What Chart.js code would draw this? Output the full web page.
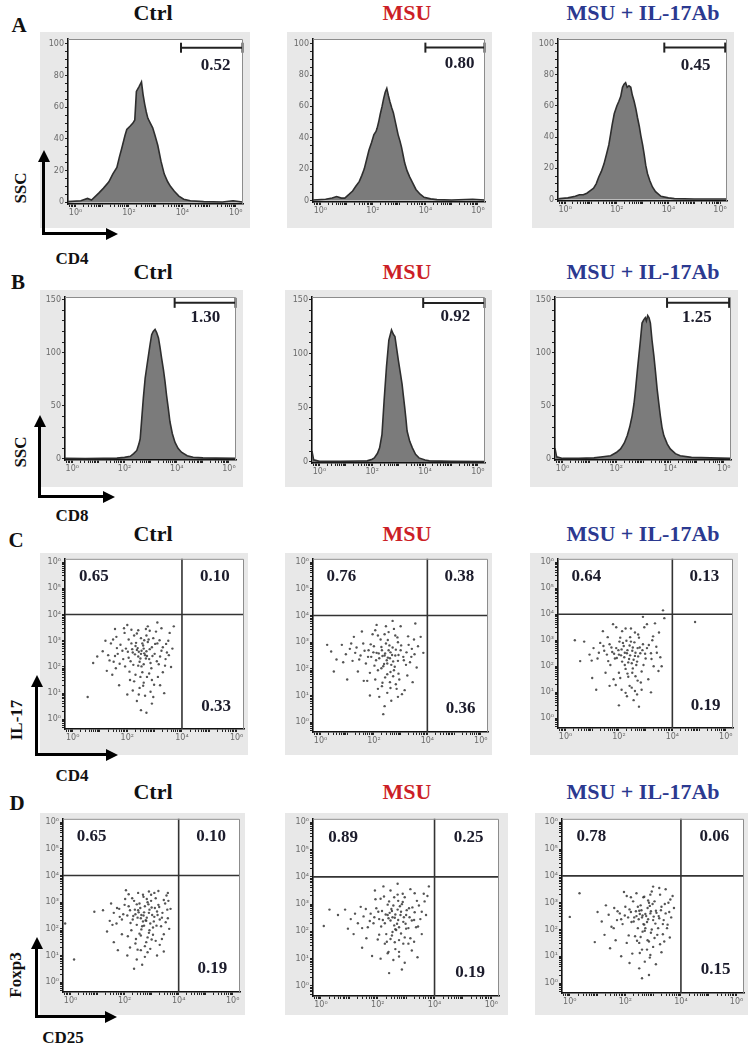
<!DOCTYPE html>
<html>
<head>
<meta charset="utf-8">
<title>Flow cytometry panels</title>
<script src="https://cdn.jsdelivr.net/npm/chart.js@4.4.1/dist/chart.umd.min.js"></script>
<style>
  body { margin: 0; background: #fff; }
  #fig { position: relative; width: 748px; height: 1046px; overflow: hidden; font-family: "Liberation Serif", "Times New Roman", serif; }
  #fig canvas { position: absolute; }
  .txt { position: absolute; font-weight: bold; white-space: nowrap; transform: translate(-50%, -50%); line-height: 1; }
  .title { font-size: 22px; }
  .letter { font-size: 21px; color: #111; }
  .axlab { font-size: 17px; color: #111; }
  .rot { transform: translate(-50%, -50%) rotate(-90deg); }
  .bar { position: absolute; background: #000; }
  .tri { position: absolute; width: 0; height: 0; }
</style>
</head>
<body>
<div id="fig"></div>
<script>
// groups and gate values
const columns = ['Ctrl', 'MSU', 'MSU + IL-17Ab'];
const gateA = [0.52, 0.80, 0.45];
const gateB = [1.30, 0.92, 1.25];
const quadC = [[0.65, 0.10, 0.33], [0.76, 0.38, 0.36], [0.64, 0.13, 0.19]];
const quadD = [[0.65, 0.10, 0.19], [0.89, 0.25, 0.19], [0.78, 0.06, 0.15]];

// histogram curves: [log10 intensity, count]
const histACtrl = [[-0.28,0.5],[0.2,1],[0.45,2.5],[0.6,1.5],[0.88,6],[1.05,9],[1.25,13],[1.4,18],[1.55,22],[1.65,29],[1.73,34],[1.85,42],[1.92,46],[2.04,48],[2.15,50],[2.22,52],[2.28,70],[2.38,73],[2.47,76],[2.53,68],[2.59,62],[2.65,57],[2.71,53],[2.8,50],[2.89,47],[2.98,42],[3.08,36],[3.14,31],[3.2,26],[3.32,18],[3.45,13],[3.56,10],[3.7,7],[3.87,4],[4.05,2],[4.3,1],[4.8,0.5],[5.5,0.3],[5.9,1],[6.25,0.3]];
const histAMsu = [[-0.28,0.3],[0.2,0.8],[0.45,1.5],[0.62,2.5],[0.8,1.5],[0.93,1.5],[1.1,4],[1.23,6],[1.35,9],[1.48,12],[1.58,16],[1.67,20],[1.76,26],[1.85,32],[1.95,37],[2.04,42],[2.12,44],[2.16,46],[2.22,50],[2.28,55],[2.35,60],[2.41,65],[2.47,69],[2.53,71.5],[2.59,67],[2.65,63],[2.72,59],[2.78,56],[2.87,49],[2.96,42],[3.03,38],[3.09,34],[3.15,29],[3.21,24],[3.3,19],[3.4,15],[3.52,11],[3.64,7],[3.8,4],[3.95,2],[4.2,1],[4.44,0.5],[5.0,0.3],[5.8,0.8],[6.25,0.3]];
const histAIl = [[-0.28,0.3],[-0.2,0.5],[0.1,1],[0.39,2],[0.55,3],[0.7,3],[0.84,4],[1.0,6],[1.1,7.2],[1.2,10],[1.3,14.4],[1.4,18],[1.5,22.7],[1.6,29],[1.69,35],[1.76,42],[1.82,48],[1.9,55],[2.0,60],[2.08,63],[2.15,66],[2.22,72],[2.28,74],[2.34,75],[2.4,72],[2.47,73],[2.54,72],[2.6,67],[2.67,63],[2.74,58],[2.8,52.6],[2.87,47],[2.93,41],[3.0,35],[3.06,29],[3.12,22],[3.19,16.5],[3.28,12],[3.38,8],[3.5,5],[3.71,2],[4.0,1],[4.23,0.5],[5,0.3],[6.25,0.3]];
const histBCtrl = [[-0.28,0.5],[0.5,0.3],[1.2,0.5],[1.71,0.8],[2.0,1.5],[2.22,2.5],[2.35,5],[2.47,8],[2.55,14],[2.6,19],[2.66,38],[2.72,57],[2.79,76],[2.86,88],[2.92,98],[2.98,108],[3.04,117],[3.1,120],[3.17,122],[3.23,119],[3.3,114],[3.36,105],[3.42,95],[3.49,84],[3.55,73],[3.61,60],[3.68,47],[3.74,35],[3.83,24],[3.93,15.8],[4.05,10],[4.18,6.3],[4.4,3],[4.63,1.6],[5,1],[5.5,0.8],[6.25,0.5]];
const histBMsu = [[-0.28,10],[-0.22,2],[0,0.5],[0.8,0.5],[1.5,0.8],[1.81,1],[2.0,2.5],[2.08,3.7],[2.2,8],[2.28,13],[2.37,25.5],[2.45,56.6],[2.54,88],[2.63,112.7],[2.73,122],[2.8,118],[2.86,116],[2.93,104],[2.99,94],[3.06,83],[3.13,72],[3.18,61],[3.23,50.5],[3.28,39],[3.32,28.6],[3.42,19],[3.52,13],[3.64,7],[3.77,3.7],[4.0,1.8],[4.16,1],[5,0.5],[6.25,0.3]];
const histBIl = [[-0.28,10],[-0.22,2],[0,0.5],[0.6,0.5],[1.17,1],[1.5,2],[1.79,3],[2.0,6],[2.16,9.4],[2.3,15],[2.41,22],[2.5,30],[2.59,40.6],[2.66,52],[2.72,66],[2.78,82],[2.84,97],[2.9,112],[2.96,128],[3.02,131],[3.08,133],[3.12,130],[3.17,135],[3.22,133],[3.27,128],[3.33,112],[3.4,97],[3.46,82],[3.52,66],[3.58,53],[3.64,40.6],[3.7,30],[3.77,22],[3.9,14],[4.01,9.4],[4.2,5],[4.38,3],[4.8,1.5],[5.5,1],[6.25,0.5]];

// gate bars: [start, end] in log10 units
const gateRangeA = [[3.95, 6.25], [4.0, 6.25], [3.84, 6.2]];
const gateRangeB = [[3.92, 6.25], [3.93, 6.25], [3.89, 6.2]];

// events: [log10 x, log10 y]
const dotsCCtrl = [[2.5,2.5],[2.6,2.7],[2.4,2.4],[2.7,2.6],[2.3,2.8],[2.8,2.3],[2.55,2.9],[2.45,2.2],[2.9,2.75],[2.2,2.55],[2.65,2.45],[2.35,2.65],[2.75,2.95],[2.05,2.35],[3.0,2.5],[2.5,3.1],[2.6,2.1],[2.15,2.9],[2.85,2.15],[2.4,2.05],[3.1,2.9],[1.95,2.7],[2.7,3.2],[3.2,2.4],[2.25,3.2],[2.95,3.1],[1.85,2.3],[2.55,1.8],[3.15,2.1],[2.05,3.05],[1.75,2.85],[2.8,1.75],[3.3,2.75],[2.4,3.4],[1.65,2.5],[2.3,1.7],[3.05,3.35],[2.9,1.5],[1.9,3.3],[3.4,2.3],[2.6,1.4],[1.5,2.2],[3.5,3.0],[2.1,1.5],[2.75,3.55],[1.4,2.9],[3.3,1.8],[2.45,1.2],[1.6,3.15],[3.45,2.55],[2.2,1.1],[2.85,1.05],[1.3,2.45],[3.55,3.3],[2.65,0.9],[1.2,3.0],[3.2,1.3],[2.35,0.7],[1.1,2.6],[3.6,2.0],[2.0,3.6],[1.45,1.7],[3.1,3.7],[2.9,0.6],[0.9,2.4],[2.5,0.35],[0.55,0.85],[1.7,1.3],[3.7,3.55],[3.35,1.0],[0.75,2.15],[1.25,1.85],[2.0,0.95],[3.65,2.7],[1.55,3.45],[2.7,0.25],
  [2.52,2.62],[2.62,2.52],[2.38,2.72],[2.72,2.42],[2.48,2.32],[2.58,2.82],[2.28,2.48],[2.82,2.68],[2.42,2.58],[2.68,2.32],[2.32,2.92],[2.92,2.42],[2.18,2.68],[2.78,3.05],[2.52,2.02],[2.12,2.22],[3.02,2.88],[2.62,3.02],[2.22,2.08],[2.88,1.95],[2.02,2.58],[3.08,2.22],[2.48,1.62],[1.82,2.62],[3.18,3.02],[2.72,1.62],[1.92,2.02],[2.35,3.28],[3.25,2.62],[2.08,1.82],[1.62,2.72],[2.82,3.38],[3.38,2.05],[1.72,2.12],[2.58,1.28],[2.15,3.42],[3.12,1.62],[1.55,2.42],[2.98,1.32],[2.25,1.45],[1.48,3.05],[3.42,2.88],[1.88,3.48],[2.68,3.45],[3.52,2.45],[1.35,2.25],[2.42,0.95],[3.25,3.48],[1.58,1.95],[2.95,0.85]];
const dotsCMsu = [[2.4,2.5],[2.6,2.4],[2.3,2.7],[2.7,2.8],[2.5,2.2],[2.2,2.4],[2.8,2.5],[2.45,2.95],[2.65,2.15],[2.1,2.6],[2.9,2.3],[2.35,2.1],[2.55,2.7],[3.0,2.7],[2.0,2.85],[2.75,1.95],[2.25,3.1],[2.9,3.0],[1.9,2.45],[3.1,2.45],[2.5,1.8],[2.15,1.95],[2.8,3.25],[1.8,2.7],[3.2,2.15],[2.4,3.3],[1.7,2.2],[2.95,1.6],[2.6,1.5],[1.6,2.95],[3.3,2.9],[2.05,1.6],[3.25,1.75],[1.5,2.5],[2.3,1.35],[2.75,3.5],[1.35,2.8],[3.4,2.45],[1.95,3.3],[2.85,1.25],[1.2,2.3],[2.5,1.1],[3.5,3.1],[1.1,2.75],[2.2,0.95],[3.15,1.2],[0.95,2.55],[1.75,1.55],[3.0,3.6],[0.8,2.9],[2.65,0.8],[1.55,3.4],[0.6,2.35],[3.45,1.5],[2.4,0.6],[0.4,2.65],[1.4,1.9],[3.6,2.05],[2.9,0.95],[0.25,2.9],[1.25,3.2],[2.1,3.65],[3.75,3.2],[2.35,0.3],[0.5,1.9],[3.55,3.7],[1.0,1.6],[2.7,3.8],[3.85,2.6],[1.85,1.0],
  [2.42,2.58],[2.52,2.42],[2.32,2.48],[2.62,2.62],[2.48,2.32],[2.58,2.88],[2.28,2.82],[2.72,2.28],[2.38,2.18],[2.82,2.72],[2.18,2.58],[2.68,2.52],[2.52,3.08],[2.92,2.52],[2.08,2.32],[2.78,2.08],[2.28,2.02],[3.02,2.88],[1.98,2.62],[2.62,1.88],[2.42,1.68],[3.12,2.32],[1.88,2.92],[2.88,3.18],[2.15,3.25],[3.22,2.62],[1.78,2.45],[2.72,1.72],[2.02,2.12],[3.35,2.25],[1.65,2.68],[2.55,3.38],[2.92,1.82],[1.85,1.85],[3.42,2.75],[2.32,1.48],[1.45,2.35],[2.82,1.42],[2.05,3.45],[3.28,3.22],[1.3,2.6],[2.62,1.28],[3.52,2.55],[1.15,2.95],[2.15,1.25],[3.05,1.05],[0.85,2.25],[2.45,3.6],[1.62,1.55],[3.65,2.85]];
const dotsCIl = [[2.3,2.5],[2.5,2.6],[2.2,2.35],[2.6,2.4],[2.4,2.8],[2.1,2.65],[2.7,2.7],[2.35,2.15],[2.55,2.25],[2.0,2.45],[2.8,2.5],[2.45,2.95],[2.15,2.9],[2.65,2.05],[1.9,2.7],[2.9,2.85],[2.25,1.9],[2.75,3.1],[1.85,2.3],[3.0,2.3],[2.5,1.75],[2.05,3.1],[3.05,2.7],[1.75,2.55],[2.6,3.3],[2.35,1.6],[3.2,2.5],[1.65,2.85],[2.85,1.8],[2.0,1.75],[3.25,3.0],[1.6,2.2],[2.7,1.45],[2.25,3.45],[3.3,2.0],[1.45,2.6],[2.95,3.5],[1.8,1.5],[3.4,2.75],[2.4,1.25],[1.3,2.9],[3.1,1.5],[1.9,3.5],[2.6,1.05],[1.2,2.3],[3.5,3.3],[2.1,1.1],[3.55,2.35],[1.05,2.7],[2.85,1.1],[1.5,1.75],[3.35,3.65],[0.9,2.45],[2.3,0.85],[3.7,3.85],[2.55,0.7],[0.7,2.95],[1.65,1.25],[3.2,1.0],[0.55,2.2],[1.0,1.55],[2.75,0.45],[2.0,0.5],[3.6,2.0],[1.4,3.35],[3.65,4.15],[4.85,3.7],[0.35,3.0],[2.9,3.9],[1.15,1.1],
  [2.32,2.62],[2.42,2.42],[2.22,2.52],[2.52,2.72],[2.38,2.28],[2.62,2.52],[2.18,2.78],[2.48,2.12],[2.28,2.98],[2.72,2.38],[2.08,2.42],[2.58,2.92],[2.12,2.18],[2.78,2.72],[1.98,2.62],[2.42,3.12],[2.68,2.18],[1.92,2.32],[2.88,2.62],[2.22,2.05],[2.52,1.92],[2.02,2.95],[2.98,2.48],[1.82,2.48],[2.72,3.22],[2.32,1.72],[3.12,2.82],[1.72,2.72],[2.92,2.05],[2.12,3.35],[1.68,2.05],[2.62,1.62],[3.22,2.28],[1.55,2.45],[2.45,3.45],[2.05,1.55],[3.28,3.15],[1.42,2.78],[2.82,1.38],[1.88,1.28],[3.42,2.52],[1.25,2.52],[2.48,1.18],[3.05,3.62],[1.58,3.12],[2.25,0.98],[3.48,1.82],[0.98,2.22],[2.68,0.92],[1.78,3.62]];
const dotsDCtrl = [[2.7,2.5],[2.9,2.6],[2.5,2.7],[2.8,2.3],[3.0,2.8],[2.6,2.4],[3.1,2.45],[2.4,2.55],[2.75,2.85],[2.95,2.2],[2.55,2.95],[3.2,2.65],[2.3,2.35],[2.85,3.0],[3.05,2.05],[2.45,2.15],[3.25,2.9],[2.65,2.1],[2.2,2.7],[3.3,2.35],[2.35,3.05],[2.9,1.85],[3.15,3.15],[2.1,2.5],[2.7,3.2],[3.4,2.6],[2.6,1.75],[2.0,2.9],[3.35,2.1],[2.25,1.95],[3.0,1.6],[1.9,2.35],[2.5,3.35],[3.5,2.95],[2.8,1.5],[1.8,2.75],[3.45,1.8],[2.15,3.3],[3.6,2.4],[2.4,1.45],[1.7,2.2],[3.1,3.35],[2.95,1.25],[1.6,2.6],[3.55,3.25],[2.6,1.2],[1.9,1.8],[3.65,2.0],[2.2,1.3],[1.5,2.95],[3.3,1.4],[2.75,0.95],[1.45,2.3],[3.7,2.75],[2.05,3.45],[1.35,1.9],[3.2,1.0],[2.45,0.85],[1.2,2.7],[2.9,3.4],[-0.2,2.2],[0.88,2.64],[0.13,0.85],[1.75,1.2],[2.35,0.5],[3.45,1.15],[2.65,0.65],[1.6,1.5],[3.6,3.35],[2.1,1.0],
  [2.72,2.62],[2.82,2.42],[2.62,2.52],[2.92,2.72],[2.78,2.32],[2.58,2.78],[3.02,2.52],[2.68,2.28],[2.88,2.92],[2.48,2.42],[3.12,2.78],[2.72,2.12],[2.52,2.62],[3.08,2.28],[2.82,3.12],[2.38,2.72],[3.22,2.52],[2.62,1.98],[2.98,3.05],[2.32,2.48],[3.28,2.82],[2.92,1.95],[2.45,2.92],[3.18,2.12],[2.68,3.28],[2.22,2.22],[3.38,2.42],[2.55,1.82],[3.05,1.78],[2.15,2.85],[2.85,1.68],[3.45,3.08],[2.28,3.15],[1.95,2.55],[3.52,2.25],[2.42,1.62],[2.98,3.28],[1.82,2.45],[3.15,1.55],[2.12,1.72],[3.58,2.72],[1.72,2.78],[2.75,1.35],[3.38,1.62],[2.02,3.12],[2.48,1.22],[3.62,3.05],[1.55,2.15],[3.25,3.42],[2.85,1.12]];
const dotsDMsu = [[2.6,2.5],[2.8,2.6],[2.45,2.4],[2.7,2.8],[2.9,2.35],[2.5,2.75],[3.0,2.6],[2.35,2.6],[2.75,2.15],[2.55,2.95],[3.1,2.85],[2.25,2.3],[2.85,3.0],[2.65,2.05],[3.2,2.4],[2.15,2.75],[2.4,3.1],[3.0,2.1],[2.05,2.45],[3.3,2.7],[2.5,1.85],[2.95,3.25],[1.95,2.85],[3.35,2.15],[2.3,1.9],[2.7,3.35],[1.85,2.3],[3.15,1.75],[2.1,3.2],[3.45,2.95],[2.6,1.6],[1.75,2.65],[2.9,1.55],[1.65,2.15],[3.5,2.45],[2.25,1.55],[2.45,3.5],[1.5,2.55],[3.3,3.4],[2.0,1.7],[3.55,1.9],[1.4,2.9],[2.75,1.25],[1.3,2.3],[3.65,3.1],[2.35,1.2],[1.2,2.65],[3.2,1.3],[1.9,3.5],[2.55,0.95],[1.05,2.45],[3.7,2.6],[1.6,1.75],[2.95,0.85],[0.85,2.8],[2.1,1.0],[3.8,3.65],[0.6,2.6],[2.7,3.75],[1.45,1.4],[0.3,2.8],[0.1,2.2],[2.4,0.47],[1.15,1.9],[3.75,3.3],[2.85,0.6],[1.8,1.1],[3.4,1.05],[0.95,2.1],[2.2,3.65],
  [2.62,2.62],[2.72,2.42],[2.52,2.52],[2.82,2.72],[2.68,2.28],[2.48,2.82],[2.92,2.52],[2.58,2.22],[2.78,2.92],[2.38,2.48],[3.02,2.78],[2.62,2.08],[2.42,2.68],[2.98,2.28],[2.72,3.12],[2.28,2.62],[3.12,2.52],[2.52,1.98],[2.88,3.08],[2.18,2.42],[3.22,2.88],[2.82,1.92],[2.35,2.98],[3.08,2.12],[2.58,3.25],[2.12,2.18],[3.28,2.42],[2.45,1.72],[2.95,1.78],[2.02,2.72],[2.75,1.68],[3.38,3.12],[2.22,3.28],[1.88,2.52],[3.42,2.18],[2.32,1.62],[2.88,3.38],[1.72,2.38],[3.08,1.55],[2.05,1.88],[3.55,2.72],[1.58,2.82],[2.62,1.35],[3.28,1.62],[1.92,3.18],[2.38,1.25],[3.62,3.38],[1.45,2.12],[3.15,3.55],[2.75,1.08]];
const dotsDIl = [[2.75,2.5],[2.9,2.6],[2.6,2.45],[2.8,2.8],[3.0,2.35],[2.5,2.7],[3.1,2.7],[2.65,2.2],[2.85,3.0],[2.4,2.5],[3.2,2.5],[2.7,1.95],[2.55,2.9],[3.05,3.05],[2.3,2.3],[3.3,2.85],[2.95,2.0],[2.2,2.65],[2.65,3.2],[3.35,2.2],[2.45,2.05],[3.15,1.8],[2.1,2.45],[2.9,3.3],[3.45,2.6],[2.35,1.75],[2.0,2.85],[3.25,3.3],[2.8,1.6],[1.9,2.2],[3.5,2.05],[2.5,1.5],[1.8,2.6],[3.55,3.0],[2.2,3.2],[3.0,1.35],[1.7,2.35],[2.6,1.25],[3.4,1.55],[1.6,2.8],[2.05,1.5],[3.65,2.45],[2.4,3.35],[1.5,2.1],[2.9,1.05],[3.3,1.15],[1.4,2.55],[2.25,1.1],[3.7,3.25],[1.95,3.4],[2.7,0.8],[1.3,2.9],[1.65,1.6],[3.1,0.7],[1.15,2.3],[2.5,0.55],[3.6,1.7],[1.0,2.65],[2.15,0.75],[1.45,1.3],[0.35,3.35],[0.0,2.47],[0.9,1.53],[3.75,2.8],[2.85,0.3],[1.85,1.0],[3.0,3.6],[1.25,1.8],[2.6,0.18],[3.45,3.5],
  [2.72,2.58],[2.82,2.38],[2.62,2.52],[2.92,2.68],[2.78,2.28],[2.58,2.72],[3.02,2.48],[2.68,2.18],[2.88,2.88],[2.48,2.38],[3.12,2.62],[2.72,2.05],[2.52,2.58],[3.08,2.22],[2.82,3.08],[2.38,2.68],[3.22,2.42],[2.62,1.92],[2.98,2.95],[2.32,2.45],[3.28,2.72],[2.92,1.88],[2.45,2.85],[3.18,2.05],[2.68,3.22],[2.22,2.28],[3.38,2.35],[2.55,1.72],[3.05,1.68],[2.15,2.75],[2.85,1.55],[3.42,2.95],[2.28,3.05],[1.98,2.52],[3.52,2.18],[2.42,1.58],[2.95,3.42],[1.85,2.38],[3.25,1.45],[2.12,1.78],[3.58,2.65],[1.72,2.68],[2.78,1.25],[3.35,1.82],[2.05,3.25],[2.52,1.12],[3.62,3.12],[1.58,2.05],[3.22,3.55],[2.88,0.95]];

const histA = [histACtrl, histAMsu, histAIl];
const histB = [histBCtrl, histBMsu, histBIl];
const dotsC = [dotsCCtrl, dotsCMsu, dotsCIl];
const dotsD = [dotsDCtrl, dotsDMsu, dotsDIl];

// layout: [grayL, grayT, grayR, grayB, plotL, plotT, plotR, plotB]
const boxes = [
  [[40,32,250,228,68,33,247,204],[287,32,492,228,313,33,490,202],[532,32,734,228,558,33,730,201]],
  [[40,290,243,487,65,296,238,460],[285,290,492,487,312,295,488,463],[530,290,738,487,555,293,733,460]],
  [[40,553,248,755,65,556,245,729],[285,553,492,755,313,558,488,732],[530,553,738,755,558,558,733,728]],
  [[40,813,245,1015,63,816,240,992],[285,813,508,1015,313,818,499,996],[535,813,748,1015,562,816,745,993]]
];
const titleColors = ['#111', '#cc1f27', '#2b3990'];
const titleX = [153, 407, 643];
const titleY = [13, 272, 534, 792];

const fig = document.getElementById('fig');
const sup = ['⁰', '¹', '²', '³', '⁴', '⁵', '⁶'];
const tickFont = { size: 8, family: '"DejaVu Sans", sans-serif' };

function logAxis(min, max, every, fit) {
  return {
    type: 'linear', min, max,
    afterBuildTicks: (s) => {
      const t = [];
      for (let d = Math.floor(min); d <= Math.ceil(max); d++) {
        for (let k = 1; k < 10; k++) {
          const v = d + Math.log10(k);
          if (v >= min && v <= max) t.push({ value: v });
        }
      }
      s.ticks = t;
    },
    afterFit: fit,
    ticks: {
      autoSkip: false, maxRotation: 0, padding: 1, color: '#6a6a6a', font: tickFont,
      callback: (v) => {
        const r = Math.round(v);
        return Math.abs(v - r) < 1e-9 && r >= 0 && r % every === 0 ? '10' + sup[r] : '';
      }
    },
    grid: { drawOnChartArea: false, tickLength: 3, color: '#222' },
    border: { color: '#111', width: 1.6 }
  };
}

function countAxis(top, minor, major, fit) {
  return {
    type: 'linear', min: -1, max: top,
    afterBuildTicks: (s) => {
      s.ticks = [];
      for (let v = 0; v <= top; v += minor) s.ticks.push({ value: v });
    },
    afterFit: fit,
    ticks: { autoSkip: false, padding: 1, color: '#6a6a6a', font: tickFont, callback: (v) => (v % major === 0 ? String(v) : '') },
    grid: { drawOnChartArea: false, tickLength: 3, color: '#222' },
    border: { color: '#111', width: 1.6 }
  };
}

// gray backdrop, white plot, thin top/right frame, number labels
function deco(labels) {
  return {
    id: 'deco',
    beforeDraw(chart) {
      const { ctx, width, height, chartArea: a } = chart;
      ctx.save();
      ctx.fillStyle = '#e8e8e8';
      ctx.fillRect(0, 0, width, height);
      ctx.fillStyle = '#fff';
      ctx.fillRect(a.left, a.top, a.right - a.left, a.bottom - a.top);
      ctx.restore();
    },
    afterDraw(chart) {
      const { ctx, chartArea: a, scales } = chart;
      ctx.save();
      ctx.strokeStyle = '#8c8c8c';
      ctx.lineWidth = 1;
      ctx.beginPath();
      ctx.moveTo(a.left, a.top + 0.5);
      ctx.lineTo(a.right - 0.5, a.top + 0.5);
      ctx.lineTo(a.right - 0.5, a.bottom);
      ctx.stroke();
      ctx.font = 'bold 17px "Liberation Serif", serif';
      ctx.fillStyle = '#1c1c2c';
      ctx.textAlign = 'center';
      ctx.textBaseline = 'middle';
      labels.forEach(([text, x, y]) => {
        ctx.fillText(text, scales.x.getPixelForValue(x), scales.y.getPixelForValue(y));
      });
      ctx.restore();
    }
  };
}

function makeCanvas(b) {
  const c = document.createElement('canvas');
  const w = b[2] - b[0], h = b[3] - b[1];
  c.width = w; c.height = h;
  c.style.left = b[0] + 'px'; c.style.top = b[1] + 'px';
  c.style.width = w + 'px'; c.style.height = h + 'px';
  fig.appendChild(c);
  return c;
}

function baseOptions(b, x, y) {
  return {
    responsive: false, animation: false, events: [],
    layout: { padding: { top: b[5] - b[1], right: b[2] - b[6], left: 0, bottom: 0 } },
    plugins: { legend: { display: false }, tooltip: { enabled: false } },
    scales: { x, y }
  };
}

function histPanel(b, curve, range, gateY, top, minor, major, value, lx, ly) {
  const fx = (s) => { s.height = b[3] - b[7]; };
  const fy = (s) => { s.width = b[4] - b[0]; };
  new Chart(makeCanvas(b), {
    type: 'line',
    data: {
      datasets: [
        { data: curve.map(([x, y]) => ({ x, y })), borderColor: '#2e2e2e', borderWidth: 1.6, backgroundColor: '#7b7b7b', fill: 'origin', pointRadius: 0, tension: 0 },
        { data: range.map((x) => ({ x, y: gateY })), borderColor: '#222', borderWidth: 2, pointStyle: 'line', rotation: 90, pointRadius: 5, pointBorderWidth: 2, pointBorderColor: '#222', fill: false, clip: false }
      ]
    },
    options: baseOptions(b, logAxis(-0.28, 6.27, 2, fx), countAxis(top, minor, major, fy)),
    plugins: [deco([[value.toFixed(2), lx, ly]])]
  });
}

function dotPanel(b, dots, quad) {
  const fx = (s) => { s.height = b[3] - b[7]; };
  const fy = (s) => { s.width = b[4] - b[0]; };
  const line = { type: 'line', borderColor: '#333', borderWidth: 1.6, pointRadius: 0, fill: false };
  new Chart(makeCanvas(b), {
    type: 'scatter',
    data: {
      datasets: [
        { data: dots.map(([x, y]) => ({ x, y })), pointRadius: 1.2, pointBorderWidth: 0, pointBackgroundColor: 'rgba(55,55,55,0.85)' },
        { ...line, data: [{ x: 4, y: -1 }, { x: 4, y: 7 }] },
        { ...line, data: [{ x: -1, y: 4 }, { x: 7, y: 4 }] }
      ]
    },
    options: baseOptions(b, logAxis(-0.28, 6.27, 2, fx), logAxis(-0.37, 6.13, 1, fy)),
    plugins: [deco([[quad[0].toFixed(2), 0.78, 5.45], [quad[1].toFixed(2), 5.2, 5.45], [quad[2].toFixed(2), 5.25, 0.5]])]
  });
}

const gateLabelA = [[5.25, 86], [5.3, 87], [5.05, 86]];
const gateLabelB = [[5.1, 133], [5.15, 134], [5.0, 133]];

for (let i = 0; i < 3; i++) {
  histPanel(boxes[0][i], histA[i], gateRangeA[i], 97.5, 103, 5, 20, gateA[i], ...gateLabelA[i]);
  histPanel(boxes[1][i], histB[i], gateRangeB[i], 147, 152.5, 10, 50, gateB[i], ...gateLabelB[i]);
  dotPanel(boxes[2][i], dotsC[i], quadC[i]);
  dotPanel(boxes[3][i], dotsD[i], quadD[i]);
}

// text
function text(str, x, y, cls, color) {
  const d = document.createElement('div');
  d.className = 'txt ' + cls;
  d.textContent = str;
  d.style.left = x + 'px';
  d.style.top = y + 'px';
  if (color) d.style.color = color;
  fig.appendChild(d);
}

titleY.forEach((y) => {
  columns.forEach((c, i) => text(c, titleX[i], y, 'title', titleColors[i]));
});
text('A', 19, 25, 'letter');
text('B', 18, 282, 'letter');
text('C', 16, 540, 'letter');
text('D', 17, 803, 'letter');

const axisNames = [['SSC', 'CD4'], ['SSC', 'CD8'], ['IL-17', 'CD4'], ['Foxp3', 'CD25']];
const yNamePos = [[20, 188], [20, 452], [16, 720], [15, 975]];
const xNamePos = [[72, 258], [72, 515], [72, 775], [63, 1037]];
axisNames.forEach(([yn, xn], r) => {
  text(yn, yNamePos[r][0], yNamePos[r][1], 'axlab rot');
  text(xn, xNamePos[r][0], xNamePos[r][1], 'axlab');
});

// L-shaped axis arrows
function block(cls, css) {
  const d = document.createElement('div');
  d.className = cls;
  Object.assign(d.style, css);
  fig.appendChild(d);
}
function arrow(x, top, corner, right) {
  block('bar', { left: x + 'px', top: (top + 10) + 'px', width: '3px', height: (corner - top - 7) + 'px' });
  block('bar', { left: x + 'px', top: corner + 'px', width: (right - x - 10) + 'px', height: '3px' });
  block('tri', { left: (x - 4.5) + 'px', top: top + 'px', borderLeft: '6px solid transparent', borderRight: '6px solid transparent', borderBottom: '12px solid #000' });
  block('tri', { left: (right - 12) + 'px', top: (corner - 4.5) + 'px', borderTop: '6px solid transparent', borderBottom: '6px solid transparent', borderLeft: '12px solid #000' });
}
arrow(42, 150, 232, 118);
arrow(38, 415, 495, 115);
arrow(35, 675, 753, 118);
arrow(35, 937, 1015, 117);
</script>
</body>
</html>
